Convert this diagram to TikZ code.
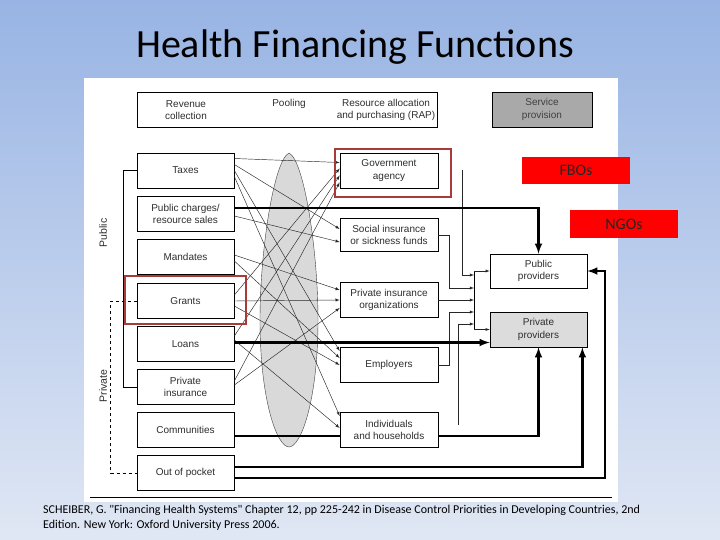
\documentclass[tikz,border=0pt]{standalone}
\usepackage{fontspec}
\setmainfont{Liberation Sans}
\newfontfamily\slidefont{Carlito}
\usepackage{tikz}
\usetikzlibrary{arrows}
\usetikzlibrary{calc}
\definecolor{slideblue}{HTML}{98B4E4}
\definecolor{slidepale}{HTML}{E0E7F4}
\definecolor{boxtext}{HTML}{2E2E2E}
\definecolor{poolgray}{HTML}{D9D9D9}
\definecolor{provgray}{HTML}{DCDCDC}
\definecolor{servgray}{HTML}{A9A9A9}
\definecolor{hilite}{HTML}{A83A3A}
\definecolor{tagred}{HTML}{FF0000}

\begin{document}
\begin{tikzpicture}[x=1pt,y=-1pt,
  box/.style={draw=black,line width=0.7pt,fill=white,minimum width=97pt,minimum height=35pt,
    inner sep=1pt,align=center,text=boxtext,font=\fontsize{10}{12.5}\selectfont},
  hdrtext/.style={align=center,text=boxtext,inner sep=0pt,font=\fontsize{10}{12.5}\selectfont},
  link/.style={draw=black!85,line width=0.45pt,-latex},
  thinline/.style={draw=black,line width=0.6pt},
  fat/.style={draw=black,line width=2.4pt},
  redframe/.style={draw=hilite,line width=2pt,inner sep=0pt},
  tag/.style={fill=tagred,minimum width=108pt,minimum height=27pt,inner sep=0pt,
    text=black!85,font=\slidefont\fontsize{16}{18}\selectfont}]
\useasboundingbox (0,0) rectangle (720,540);
\shade[top color=slideblue,bottom color=slidepale] (0,0) rectangle (720,540);
\fill[white] (84,78) rectangle (618,502);

\node[anchor=base,font=\slidefont\fontsize{40}{48}\selectfont] (title) at (355,58) {Health Financing Functions};

% pooling
\filldraw[fill=poolgray,draw=black!75,line width=0.4pt] (289,153)
  .. controls (304,160) and (318,250) .. (318,320)
  .. controls (318,400) and (301,447) .. (289,447)
  .. controls (277,447) and (260,400) .. (260,320)
  .. controls (260,250) and (274,160) .. (289,153);

% headings
\node[box,minimum width=300pt] (hdr) at (287,109.5) {};
\node[hdrtext] (revcol) at (186,110) {Revenue\\collection};
\node[hdrtext] (pool) at (289,104) {Pooling};
\node[hdrtext] (rap) at (386,110) {Resource allocation\\and purchasing (RAP)};
\node[box,fill=servgray,minimum width=100pt,text=black!75] (serv) at (542,109.5) {Service\\provision};

% revenue sources
\node[box] (taxes) at (185.5,170.5) {Taxes};
\node[box] (pubch) at (185.5,214) {Public charges/\\resource sales};
\node[box] (mandates) at (185.5,257) {Mandates};
\node[box] (grants) at (185.5,301) {Grants};
\node[box] (loans) at (185.5,344) {Loans};
\node[box] (pinsur) at (185.5,387) {Private\\insurance};
\node[box] (comm) at (185.5,430) {Communities};
\node[box] (oop) at (185.5,473) {Out of pocket};

% purchasers
\node[box,minimum width=98pt] (gov) at (389,170.5) {Government\\agency};
\node[box,minimum width=98pt,minimum height=33pt] (social) at (389,235) {Social insurance\\or sickness funds};
\node[box,minimum width=98pt] (privins) at (389,300) {Private insurance\\organizations};
\node[box,minimum width=98pt] (employers) at (389,365) {Employers};
\node[box,minimum width=98pt] (indiv) at (389,430) {Individuals\\and households};

% providers
\node[box,minimum height=34pt] (pubprov) at (538.5,271) {Public\\providers};
\node[box,fill=provgray] (privprov) at (538.5,329.5) {Private\\providers};

\node[rotate=90,text=boxtext,font=\fontsize{10.5}{12}\selectfont] (publab) at (103,233) {Public};
\node[rotate=90,text=boxtext,font=\fontsize{10.5}{12}\selectfont] (privlab) at (103,386) {Private};
\draw[thinline] (taxes.west) -- ++(-13,0) |- (pinsur.west);
\draw[thinline,dashed] (grants.west) -- ++(-26,0) |- (oop.west);

\foreach \src/\a/\dst/\b in {taxes/-12/gov/-8, grants/-6/gov/-2, loans/-8/gov/5, pinsur/-6/gov/12,
    taxes/-6/social/-6, pubch/2/social/7,
    mandates/-2/privins/-10, grants/0/privins/0, pinsur/-2/privins/8,
    taxes/0/employers/-14, mandates/4/employers/-7, grants/5/employers/0,
    taxes/6/indiv/-14, loans/-4/indiv/-2}
  \draw[link] ($(\src.east)+(0,\a)$) -- ($(\dst.west)+(0,\b)$);

% to providers
\coordinate (govtap) at (462,170);
\coordinate (indtap) at (458,425);
\coordinate (bartop) at (474,271);
\coordinate (barbot) at (474,329.5);
\foreach \n/\y in {1/275,2/288,3/300,4/312,5/324}
  \coordinate (in\n) at (474,\y);
\draw[thinline] (bartop) -- (barbot);
\draw[link] (govtap) |- (in1);
\draw[link] (social.east) -- ++(11,0) |- (in2);
\draw[link] (privins.east) -- (in3);
\draw[link] (employers.east) -- ++(11,0) |- (in4);
\draw[link] (indtap) |- (in5);
\draw[link] (bartop) -- (pubprov.west);
\draw[link] (barbot) -- (privprov.west);

\draw[fat,-latex] ($(pubch.east)+(0,-6)$) -| (pubprov.north);
\draw[fat,-latex] ($(loans.east)+(0,-1.5)$) -- ($(privprov.west)+(0,13)$);
\draw[fat] ($(comm.east)+(0,6)$) -- ($(indiv.west)+(0,6)$);
\draw[fat,-latex] ($(indiv.east)+(0,6)$) -| (privprov.south);
\draw[fat,-latex] ($(oop.east)+(0,-6)$) -| ($(privprov.south east)+(-5,0)$);
\coordinate (rimcorner) at (605,478);
\draw[fat,-latex] ($(oop.east)+(0,5)$) -- (rimcorner) |- (pubprov.east);

% highlights
\node[redframe,minimum width=116pt,minimum height=48pt] (govmark) at (393,173) {};
\node[redframe,minimum width=121pt,minimum height=48pt] (grantmark) at (185.5,299.5) {};
\node[tag] (fbo) at (576,170.5) {FBOs};
\node[tag] (ngo) at (624,224) {NGOs};

\draw[line width=0.6pt] (90,497) -- (612,497);
\node[anchor=base west,align=left,inner sep=0pt,font=\slidefont\fontsize{12}{15}\selectfont] (cite) at (43,528)
  {SCHEIBER, G. "Financing Health Systems" Chapter 12, pp 225-242 in Disease Control Priorities in Developing Countries, 2nd\\
   Edition. New York: Oxford University Press 2006.};
\end{tikzpicture}
\end{document}
